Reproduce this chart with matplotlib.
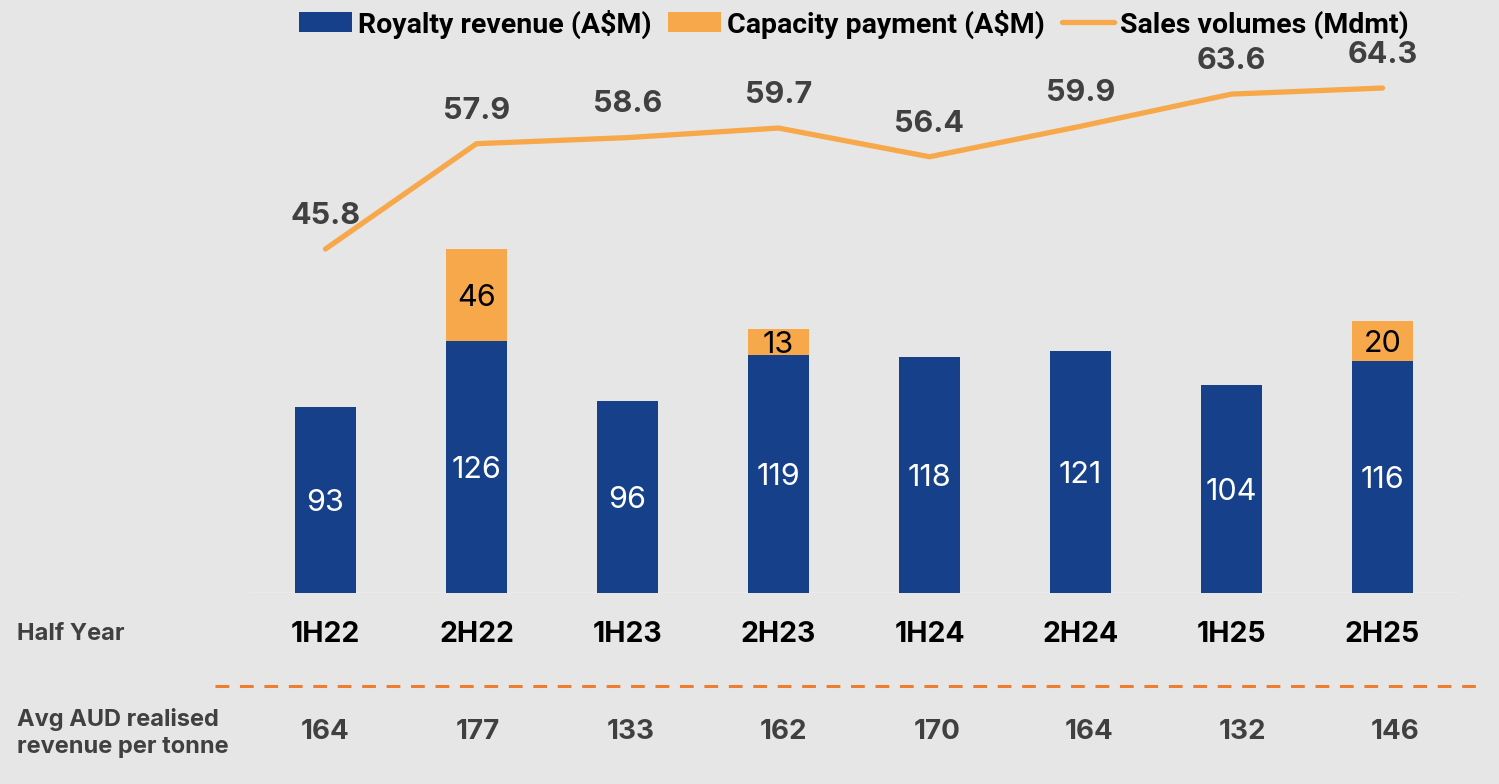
import matplotlib.pyplot as plt
import matplotlib.transforms as mtransforms
from matplotlib.lines import Line2D
import numpy as np

# data
periods = ['1H22', '2H22', '1H23', '2H23', '1H24', '2H24', '1H25', '2H25']
royalty = [93, 126, 96, 119, 118, 121, 104, 116]
capacity = [0, 46, 0, 13, 0, 0, 0, 20]
volumes = [45.8, 57.9, 58.6, 59.7, 56.4, 59.9, 63.6, 64.3]
revenue_per_tonne = [164, 177, 133, 162, 170, 164, 132, 146]

BLUE = '#17408b'
ORANGE = '#f7a84a'
DARK = '#404040'
BG = '#e6e6e6'

W, H = 1499, 784
fig = plt.figure(figsize=(W / 100, H / 100), dpi=100, facecolor=BG)

# axes box in pixel terms of the reference
left, right, bottom, top = 250, 1458, 593, 60
ax = fig.add_axes([left / W, 1 - bottom / H, (right - left) / W, (bottom - top) / H])
ax.set_facecolor('none')

x = np.arange(len(periods))
bw = 0.4
b1 = ax.bar(x, royalty, bw, color=BLUE, label='Royalty revenue (A$M)', zorder=2)
b2 = ax.bar(x, capacity, bw, bottom=royalty, color=ORANGE, label='Capacity payment (A$M)', zorder=2)
ax.set_xlim(-0.5, 7.5)
ax.set_ylim(0, (bottom - top) / 2.0)
ax.axhline(0, color='#ececec', lw=1.2, zorder=1)

for i in range(len(periods)):
    ax.text(x[i], royalty[i] / 2, str(royalty[i]), ha='center', va='center_baseline',
            color='white', fontsize=22, family='Inter', zorder=3)
    if capacity[i] > 0:
        ax.text(x[i], royalty[i] + capacity[i] / 2, str(capacity[i]), ha='center',
                va='center_baseline', color='black', fontsize=22, family='Inter', zorder=3)

for s in ax.spines.values():
    s.set_visible(False)
ax.set_xticks([])
ax.set_yticks([])

ax2 = ax.twinx()
ax2.set_facecolor('none')
ln, = ax2.plot(x, volumes, color=ORANGE, lw=3.8, solid_capstyle='round',
               solid_joinstyle='round', label='Sales volumes (Mdmt)', zorder=4)
ax2.set_ylim(6.26, 67.52)
for i, v in enumerate(volumes):
    ax2.annotate(f'{v:.1f}', (x[i], v), xytext=(0, 26), textcoords='offset points',
                 ha='center', va='center_baseline', fontsize=22, fontweight='bold',
                 family='Inter', color=DARK)
for s in ax2.spines.values():
    s.set_visible(False)
ax2.set_yticks([])

# legend on top
leg = fig.legend(handles=[b1, b2, ln], loc='center',
                 bbox_to_anchor=((left + right) / 2 / W, 1 - 24 / H),
                 ncol=3, frameon=False, handlelength=1.85, handletextpad=0.2,
                 columnspacing=0.6, prop={'family': 'Roboto', 'weight': 'bold', 'size': 20.5})

# table rows below the chart
tr = mtransforms.blended_transform_factory(ax.transData, fig.transFigure)
for i, p in enumerate(periods):
    ax.text(x[i], 1 - 631 / H, p, transform=tr, ha='center', va='center_baseline',
            fontsize=20.5, fontweight='bold', family='Inter', color='black')
    ax.text(x[i] * 1.012, 1 - 729 / H, str(revenue_per_tonne[i]), transform=tr,
            ha='center', va='center_baseline', fontsize=20, fontweight='bold',
            family='Inter', color=DARK)

fig.text(17 / W, 1 - 632 / H, 'Half Year', ha='left', va='center_baseline',
         fontsize=17, fontweight='bold', family='Inter', color=DARK)
fig.text(17 / W, 1 - 733 / H, 'Avg AUD realised\nrevenue per tonne', ha='left', va='center',
         fontsize=17, fontweight='bold', family='Inter', color=DARK, linespacing=1.32)

fig.add_artist(Line2D([215 / W, 1477 / W], [1 - 686 / H, 1 - 686 / H],
                      color='#ed7d31', lw=2.2, ls=(0, (4.5, 3.5))))

fig.savefig('out.png', dpi=100, facecolor=BG)
